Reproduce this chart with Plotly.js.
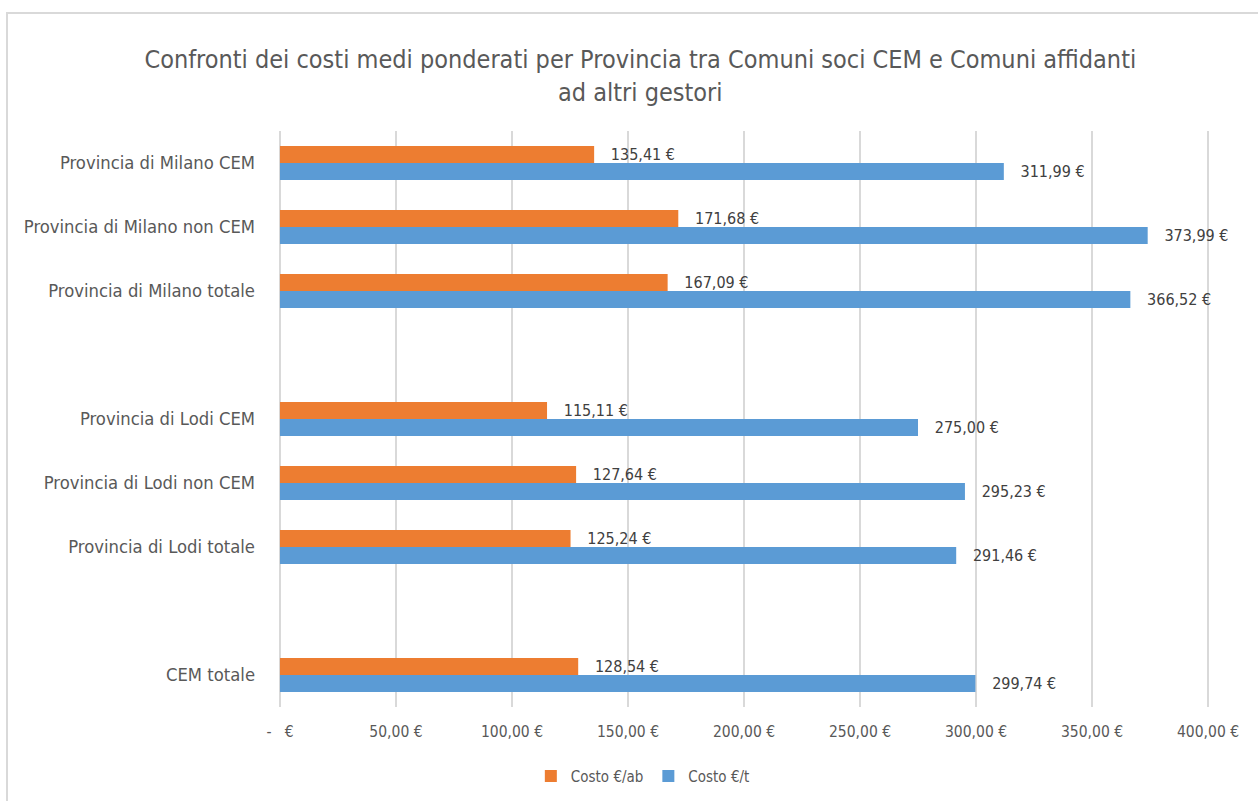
<!DOCTYPE html>
<html>
<head>
<meta charset="utf-8">
<script src="https://cdn.plot.ly/plotly-3.0.1.min.js"></script>
<style>
html,body{margin:0;padding:0;background:#fff;overflow:hidden;}
#frame{position:absolute;left:6px;top:12px;width:1400px;height:900px;border:2px solid #d9d9d9;box-sizing:border-box;}
#chart{position:absolute;left:0;top:0;width:1258px;height:801px;}
</style>
</head>
<body>
<div id="frame"></div>
<div id="chart"></div>
<script>
const categories = [
  'Provincia di Milano CEM',
  'Provincia di Milano non CEM',
  'Provincia di Milano totale',
  ' ',
  'Provincia di Lodi CEM',
  'Provincia di Lodi non CEM',
  'Provincia di Lodi totale',
  '  ',
  'CEM totale'
];
const costoAb = [135.41, 171.68, 167.09, null, 115.11, 127.64, 125.24, null, 128.54];
const costoT  = [311.99, 373.99, 366.52, null, 275.00, 295.23, 291.46, null, 299.74];
const tickVals = [0, 50, 100, 150, 200, 250, 300, 350, 400];
const tickText = ['-   €', '50,00 €', '100,00 €', '150,00 €', '200,00 €', '250,00 €', '300,00 €', '350,00 €', '400,00 €'];
const seriesNames = ['Costo €/ab', 'Costo €/t'];
const titleText = 'Confronti dei costi medi ponderati per Provincia tra Comuni soci CEM e Comuni affidanti<br>ad altri gestori';

const FONT = '"DejaVu Sans Condensed", "Liberation Sans Narrow", sans-serif';

function mk(vals, name, color) {
  return {
    type: 'bar', orientation: 'h',
    y: categories, x: vals, name: name,
    marker: {color: color},
    texttemplate: '   %{x:.2f} €',
    textposition: 'outside',
    constraintext: 'none',
    cliponaxis: false,
    textfont: {family: FONT, size: 16, color: '#404040'},
    hoverinfo: 'skip'
  };
}

const data = [
  mk(costoAb, seriesNames[0], '#ed7d31'),
  mk(costoT, seriesNames[1], '#5b9bd5')
];

const layout = {
  width: 1258, height: 801,
  paper_bgcolor: 'rgba(0,0,0,0)',
  plot_bgcolor: 'rgba(0,0,0,0)',
  separators: ',.',
  font: {family: FONT, color: '#595959'},
  margin: {l: 278, r: 48, t: 131, b: 94, autoexpand: false},
  barmode: 'group',
  bargap: 0.47,
  bargroupgap: 0,
  title: {
    text: titleText,
    font: {family: FONT, size: 25, color: '#595959'},
    x: 0.509, xref: 'container', xanchor: 'center',
    y: 0.915, yref: 'container', yanchor: 'middle'
  },
  xaxis: {
    range: [-0.85, 400.85],
    tickvals: tickVals, ticktext: tickText,
    showgrid: true, gridcolor: '#d9d9d9', gridwidth: 2,
    zeroline: false, showline: false, ticks: '',
    ticklabelstandoff: 13,
    tickfont: {family: FONT, size: 15.5, color: '#595959'},
    fixedrange: true
  },
  yaxis: {
    type: 'category',
    categoryorder: 'array', categoryarray: categories,
    autorange: 'reversed',
    showgrid: false, zeroline: false, showline: false, ticks: '',
    ticklabelstandoff: 22,
    tickfont: {family: FONT, size: 18.3, color: '#595959'},
    fixedrange: true
  },
  legend: {
    orientation: 'h',
    xref: 'container', yref: 'container',
    x: 0.511, xanchor: 'center',
    y: 0.031, yanchor: 'middle',
    itemwidth: 30,
    font: {family: FONT, size: 15, color: '#595959'},
    traceorder: 'normal'
  },
  showlegend: true
};

Plotly.newPlot('chart', data, layout, {displayModeBar: false, staticPlot: true});
</script>
</body>
</html>
